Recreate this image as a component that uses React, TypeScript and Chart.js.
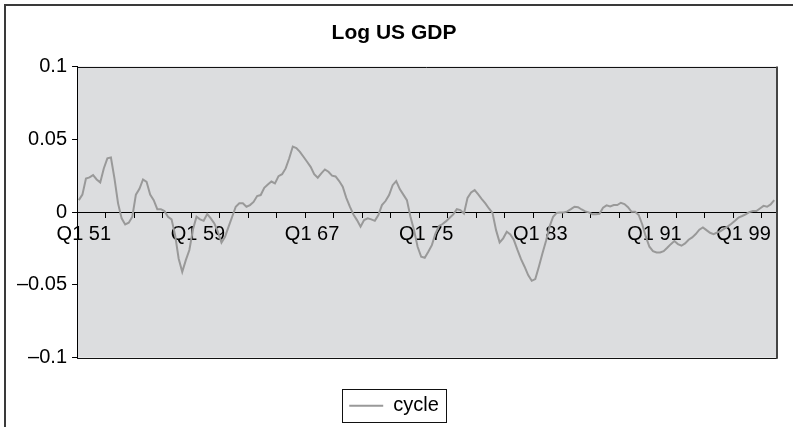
import React, { useEffect, useRef } from 'react';
import { Chart, registerables } from 'chart.js';

Chart.register(...registerables);

// ---- data ----
const START_YEAR = 1951;
const END_YEAR = 1999;
const QUARTER_NAMES = ['Q1', 'Q2', 'Q3', 'Q4'];
const CATEGORIES: string[] = [];
for (let y = START_YEAR; y <= END_YEAR; y++) {
  for (const q of QUARTER_NAMES) CATEGORIES.push(`${q} ${String(y).slice(2)}`);
}
const LABEL_EVERY = 32;
const TICK_EVERY = 8;
const Y_TICKS = [-0.1, -0.05, 0, 0.05, 0.1];
const SERIES_NAME = 'cycle';
const TITLE = 'Log US GDP';

const CYCLE = [
  0.0082, 0.012, 0.023, 0.0238, 0.0254, 0.0224, 0.0204, 0.03, 0.0369, 0.0375,
  0.023, 0.006, -0.0043, -0.0085, -0.0073, -0.0032, 0.012, 0.016, 0.0224, 0.0208,
  0.012, 0.0082, 0.002, 0.002, 0.0007, -0.0032, -0.005, -0.0158, -0.032, -0.041,
  -0.033, -0.026, -0.012, -0.0032, -0.005, -0.006, -0.0014, -0.0043, -0.0078, -0.0135,
  -0.021, -0.017, -0.01, -0.0032, 0.0037, 0.006, 0.006, 0.0037, 0.0048, 0.007,
  0.011, 0.0117, 0.0167, 0.019, 0.021, 0.0197, 0.0247, 0.026, 0.03, 0.037,
  0.045, 0.044, 0.0414, 0.038, 0.0346, 0.0311, 0.0261, 0.0236, 0.0266, 0.0293,
  0.0277, 0.025, 0.0245, 0.0213, 0.0174, 0.0098, 0.0037, -0.0016, -0.0055, -0.01,
  -0.0055, -0.0043, -0.005, -0.006, -0.002, 0.0048, 0.0076, 0.0117, 0.0185, 0.0213,
  0.0158, 0.012, 0.0082, -0.0032, -0.0124, -0.0238, -0.0307, -0.0314, -0.0272, -0.0227,
  -0.0147, -0.0096, -0.0082, -0.0062, -0.0039, -0.0016, 0.002, 0.0014, -0.001, 0.0098,
  0.0135, 0.0151, 0.0121, 0.0089, 0.006, 0.0025, -0.0005, -0.0124, -0.0208, -0.018,
  -0.0135, -0.0153, -0.0192, -0.026, -0.0323, -0.0375, -0.0433, -0.0472, -0.046, -0.0375,
  -0.0284, -0.0199, -0.01, -0.0032, -0.0005, -0.0002, -0.0002, 0.0005, 0.002, 0.0037,
  0.0034, 0.0018, 0.0005, -0.0002, -0.0014, -0.0014, -0.0011, 0.003, 0.0046, 0.0039,
  0.0048, 0.0048, 0.0064, 0.0055, 0.0034, 0.0002, 0.0002, -0.002, -0.0085, -0.0169,
  -0.0238, -0.0268, -0.0277, -0.0277, -0.0268, -0.0245, -0.022, -0.0199, -0.022, -0.0231,
  -0.0215, -0.019, -0.0174, -0.0151, -0.0121, -0.0105, -0.0124, -0.0142, -0.0151, -0.014,
  -0.013, -0.0114, -0.0098, -0.008, -0.006, -0.0037, -0.0027, -0.0016, 0.0, 0.0007,
  0.0007, 0.0025, 0.0043, 0.0037, 0.0053, 0.0082,
];

const FONT_FAMILY = "'Liberation Sans', Arial, Helvetica, sans-serif";

const plotFrame = {
  id: 'plotFrame',
  beforeDraw(chart: any) {
    const { ctx, chartArea: a } = chart;
    ctx.save();
    ctx.fillStyle = '#dcdddf';
    ctx.fillRect(a.left, a.top, a.right - a.left, a.bottom - a.top);
    ctx.restore();
  },
  afterDraw(chart: any) {
    const { ctx, chartArea: a } = chart;
    ctx.save();
    ctx.strokeStyle = '#111';
    ctx.lineWidth = 1;
    ctx.beginPath();
    ctx.moveTo(a.left, Math.round(a.top) + 0.5);
    ctx.lineTo(a.right, Math.round(a.top) + 0.5);
    ctx.moveTo(a.left, Math.round(a.bottom) + 0.5);
    ctx.lineTo(a.right + 1, Math.round(a.bottom) + 0.5);
    ctx.stroke();
    ctx.strokeStyle = '#444';
    ctx.lineWidth = 2;
    ctx.beginPath();
    ctx.moveTo(Math.round(a.right) + 1, a.top);
    ctx.lineTo(Math.round(a.right) + 1, a.bottom + 1);
    ctx.stroke();
    // legend frame
    const lg = chart.legend;
    if (lg && lg.legendHitBoxes && lg.legendHitBoxes.length) {
      const hb = lg.legendHitBoxes[0];
      const cy = hb.top + hb.height / 2;
      const x0 = Math.round(hb.left - 7) + 0.5;
      const x1 = Math.round(hb.left + hb.width + 7) + 0.5;
      const y0 = Math.round(cy - 16.5) + 0.5;
      const y1 = Math.round(cy + 16.5) + 0.5;
      ctx.strokeStyle = '#111';
      ctx.lineWidth = 1;
      ctx.strokeRect(x0, y0, x1 - x0, y1 - y0);
    }
    ctx.restore();
  },
};

export default function App() {
  const ref = useRef<HTMLCanvasElement | null>(null);

  useEffect(() => {
    document.body.style.margin = '0';
    document.body.style.overflow = 'hidden';
    document.body.style.background = '#fff';
    const canvas = ref.current;
    if (!canvas) return;
    const lastLabelIdx = Math.floor((CATEGORIES.length - 1) / LABEL_EVERY) * LABEL_EVERY;
    const chart = new Chart(canvas, {
      type: 'line',
      data: {
        labels: CATEGORIES,
        datasets: [
          {
            label: SERIES_NAME,
            data: CYCLE,
            borderColor: '#999999',
            backgroundColor: '#999999',
            borderWidth: 2,
            pointRadius: 0,
            pointHoverRadius: 0,
            tension: 0,
            fill: false,
          },
        ],
      },
      options: {
        animation: false,
        responsive: false,
        events: [],
        layout: { padding: { left: 12, right: 17, top: 0, bottom: 1.3 } },
        scales: {
          x: {
            type: 'category',
            position: { y: 0 } as any,
            offset: true,
            grid: {
              display: true,
              offset: true,
              drawOnChartArea: false,
              drawTicks: true,
              tickLength: 5,
              lineWidth: 1,
              color: (c: any) => (typeof c.index === 'number' && c.index % TICK_EVERY === 0 ? '#000' : 'rgba(0,0,0,0)'),
            },
            border: { display: true, color: '#000', width: 1 },
            ticks: {
              autoSkip: false,
              maxRotation: 0,
              minRotation: 0,
              padding: 5,
              labelOffset: 5,
              color: '#000',
              font: { family: FONT_FAMILY, size: 20 },
              callback: (_v: any, i: number) => {
                if (i % LABEL_EVERY !== 0) return '';
                const lbl = CATEGORIES[i];
                return i === lastLabelIdx ? lbl + '         ' : lbl;
              },
            },
          },
          y: {
            type: 'linear',
            min: Y_TICKS[0],
            max: Y_TICKS[Y_TICKS.length - 1],
            afterBuildTicks: (axis: any) => {
              axis.ticks = Y_TICKS.map((v) => ({ value: v }));
            },
            grid: {
              display: true,
              drawOnChartArea: false,
              drawTicks: true,
              tickLength: 5,
              color: '#000',
            },
            border: { display: true, color: '#000', width: 1 },
            ticks: {
              padding: 5,
              color: '#000',
              font: { family: FONT_FAMILY, size: 20 },
              callback: (v: any) => {
                const r = Math.round(Number(v) * 100) / 100;
                if (r === 0) return '0';
                return (r < 0 ? '\u2013' : '') + String(Math.abs(r));
              },
            },
          },
        },
        plugins: {
          title: {
            display: true,
            text: TITLE,
            color: '#000',
            font: { family: FONT_FAMILY, size: 21, weight: 'bold' },
            padding: { top: 21, bottom: 20.3 },
          },
          legend: {
            display: true,
            position: 'bottom',
            labels: {
              usePointStyle: true,
              pointStyle: 'line',
              pointStyleWidth: 34,
              padding: 38,
              color: '#000',
              font: { family: FONT_FAMILY, size: 20 },
            },
          },
          tooltip: { enabled: false },
        },
      },
      plugins: [plotFrame],
    });
    return () => chart.destroy();
  }, []);

  return (
    <div style={{ position: 'relative', width: 793, height: 427, overflow: 'hidden', background: '#fff' }}>
      <canvas ref={ref} width={793} height={427} style={{ position: 'absolute', left: 0, top: 0, display: 'block' }} />
      <div
        style={{
          position: 'absolute',
          left: 4,
          top: 4,
          width: 820,
          height: 460,
          borderLeft: '2px solid #3a3a3a',
          borderTop: '2px solid #3a3a3a',
          pointerEvents: 'none',
        }}
      />
    </div>
  );
}
